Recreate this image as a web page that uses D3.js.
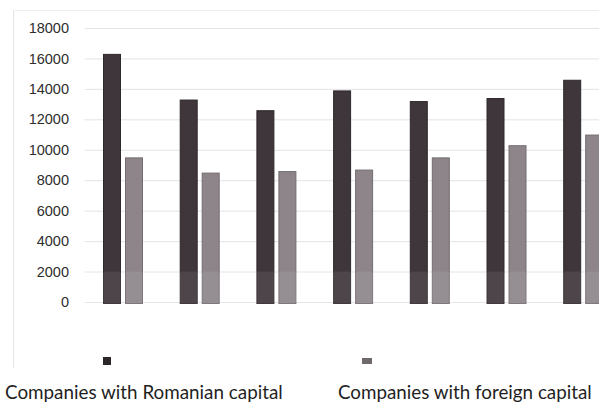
<!DOCTYPE html>
<html>
<head>
<meta charset="utf-8">
<script src="https://cdn.jsdelivr.net/npm/d3@7"></script>
<style>
  html, body { margin: 0; padding: 0; background: #fff; }
  svg { display: block; }
</style>
</head>
<body>
<svg id="chart" width="599" height="403"></svg>
<script>
// Number of companies per period, by origin of capital
const groups = ["P1", "P2", "P3", "P4", "P5", "P6", "P7"];
const seriesNames = ["Companies with Romanian capital", "Companies with foreign capital"];
const romanianCapital = [16300, 13300, 12600, 13900, 13200, 13400, 14600];
const foreignCapital  = [9500, 8500, 8600, 8700, 9500, 10300, 11000];
const yTicks = [0, 2000, 4000, 6000, 8000, 10000, 12000, 14000, 16000, 18000];

const W = 599, H = 403;
const svg = d3.select("#chart");
const colors = ["#3e363a", "#8d858a"];
const strokes = ["#2f282c", "#746c71"];

// plot area
const plotLeft = 84.65, step = 76.7;
const plotTop = 28, plotBottom = 302;

const x0 = d3.scaleBand()
  .domain(groups)
  .range([plotLeft, plotLeft + step * groups.length])
  .paddingInner(1 - 40 / step)
  .paddingOuter((1 - 40 / step) / 2);

const x1 = d3.scaleBand()
  .domain(seriesNames)
  .range([0, x0.bandwidth()])
  .paddingInner(2 - 40 / 22);

const y = d3.scaleLinear().domain([0, 18000]).range([plotBottom, plotTop]);

// faint frame
svg.append("line").attr("x1", 13.5).attr("x2", 13.5).attr("y1", 10).attr("y2", 368)
  .attr("stroke", "#e4e4e4").attr("stroke-width", 1);
svg.append("line").attr("x1", 13).attr("x2", W).attr("y1", 10.5).attr("y2", 10.5)
  .attr("stroke", "#eeeeee").attr("stroke-width", 1);

// gridlines
const grid = svg.append("g")
  .attr("transform", `translate(${plotLeft},0)`)
  .call(d3.axisRight(y).tickValues(yTicks).tickSize(W - plotLeft).tickFormat(""));
grid.select(".domain").remove();
grid.selectAll("line").attr("stroke", "#e3e3e3").attr("stroke-width", 1);

// y axis labels
const yAxis = svg.append("g")
  .attr("transform", "translate(69,0)")
  .call(d3.axisLeft(y).tickValues(yTicks).tickSize(0).tickPadding(0).tickFormat(d3.format("d")));
yAxis.select(".domain").remove();
yAxis.selectAll("text")
  .attr("fill", "#2e2e2e")
  .style("font-family", "'Liberation Sans', Arial, sans-serif")
  .style("font-size", "14.5px");

// bars
const rows = groups.map((g, i) => ({ group: g, values: [romanianCapital[i], foreignCapital[i]] }));
const gGroups = svg.append("g").selectAll("g")
  .data(rows)
  .join("g")
  .attr("transform", d => `translate(${x0(d.group)},0)`);

gGroups.selectAll("rect")
  .data(d => d.values.map((v, k) => ({ key: seriesNames[k], k, v })))
  .join("rect")
  .attr("x", d => x1(d.key) + 0.5)
  .attr("width", x1.bandwidth() - 1)
  .attr("y", d => y(d.v) + 0.5)
  .attr("height", d => y(0) - y(d.v) + 1)
  .attr("fill", d => colors[d.k])
  .attr("stroke", d => strokes[d.k])
  .attr("stroke-width", 1);

// lighter band over the lowest interval
svg.append("rect")
  .attr("x", plotLeft).attr("width", W - plotLeft)
  .attr("y", y(2000)).attr("height", y(0) - y(2000) + 2)
  .attr("fill", "#ffffff").attr("opacity", 0.08);

// legend
svg.append("rect").attr("x", 103).attr("y", 357).attr("width", 8).attr("height", 8)
  .attr("fill", "#2c2729");
svg.append("rect").attr("x", 362).attr("y", 358).attr("width", 10).attr("height", 6)
  .attr("fill", "#6f686c");

const legendText = [
  { name: seriesNames[0], x: 5, w: 278 },
  { name: seriesNames[1], x: 338, w: 254 }
];
svg.selectAll("text.legend")
  .data(legendText)
  .join("text")
  .attr("class", "legend")
  .attr("x", d => d.x)
  .attr("y", 399)
  .attr("fill", "#1f1f1f")
  .style("font-family", "Lato, 'Open Sans', sans-serif")
  .style("font-size", "20px")
  .text(d => d.name)
  .each(function (d) {
    const len = this.getComputedTextLength();
    d3.select(this).style("font-size", (20 * d.w / len).toFixed(2) + "px");
  });
</script>
</body>
</html>
